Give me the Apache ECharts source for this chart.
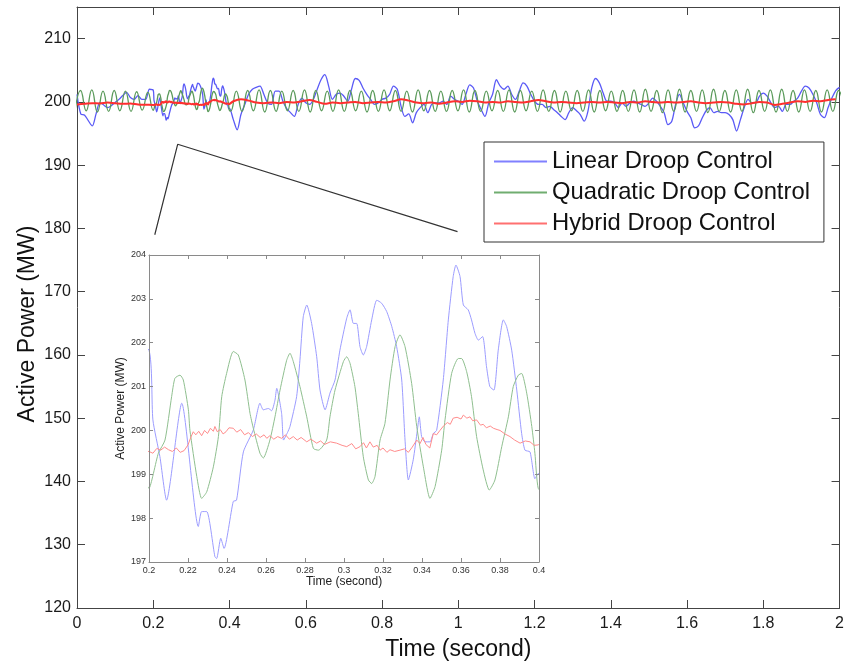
<!DOCTYPE html>
<html>
<head>
<meta charset="utf-8">
<title>Active Power under Droop Control</title>
<script src="https://cdn.jsdelivr.net/npm/echarts@6/dist/echarts.min.js"></script>
<style>
  html, body { margin: 0; padding: 0; background: #fff; }
  #chart { width: 847px; height: 666px; }
</style>
</head>
<body>
<div id="chart"></div>
<script>
// ---- Series names ----
const seriesNames = ['Linear Droop Control', 'Quadratic Droop Control', 'Hybrid Droop Control'];

// ---- Linear droop: sampled every 0.01 s before and after the 0.2-0.4 s window ----
const linearHeadStart = 0, linearStep = 0.01;
const linearHead = [201.2, 198.1, 197.9, 197.0, 196.2, 198.1, 199.9, 199.5, 199.1, 199.4,
  199.9, 200.4, 201.0, 201.5, 200.7, 200.4, 201.0, 200.4, 200.4, 202.0];
const linearTailStart = 0.41;
const linearTail = [
  197.2, 195.6, 198.0, 199.6, 201.2, 202.0, 202.3, 202.5, 201.2, 199.85,
  199.6, 201.7, 201.7, 200.1, 198.95, 198.3, 197.7, 199.6, 200.6, 199.85,
  199.6, 200.4, 202.0, 203.5, 204.3, 202.5, 200.4, 201.2, 201.4, 200.9,
  200.1, 202.0, 203.7, 203.4, 202.2, 201.2, 200.4, 199.6, 199.85, 200.4,
  200.6, 201.2, 202.5, 202.0, 199.3, 197.7, 198.1, 196.7, 198.3, 199.1,
  199.6, 198.3, 199.6, 199.85, 199.85, 200.1, 199.6, 200.9, 200.4, 200.1,
  199.6, 201.2, 202.7, 202.2, 200.1, 198.8, 197.7, 199.85, 201.2, 203.5,
  202.5, 202.0, 202.5, 201.2, 200.4, 201.7, 203.0, 202.5, 201.2, 200.1,
  199.6, 199.6, 199.1, 199.3, 198.8, 198.3, 197.7, 197.2, 198.3, 199.1,
  198.6, 198.0, 196.95, 198.5, 202.2, 203.7, 203.0, 201.4, 200.1, 200.1,
  199.85, 199.1, 199.85, 199.3, 199.85, 200.1, 199.85, 199.6, 199.3, 199.85,
  200.6, 200.1, 199.3, 198.3, 196.4, 196.95, 199.6, 201.2, 199.85, 198.5,
  197.5, 195.9, 196.2, 197.5, 198.6, 199.1, 198.3, 198.5, 198.3, 198.3,
  198.0, 197.2, 195.4, 197.2, 199.1, 200.4, 199.85, 199.85, 200.9, 201.4,
  200.9, 199.85, 199.1, 199.3, 198.5, 199.6, 199.6, 200.1, 200.6, 201.7,
  202.5, 202.2, 201.2, 199.85, 198.0, 197.5, 199.1, 200.6, 201.8, 202.3];
// Detailed samples inside 0.2-0.4 s: [time, MW]
const linearDetail = [
  [0.2000, 201.83], [0.2020, 200.24], [0.2056, 199.40], [0.2090, 198.41], [0.2168, 200.62],
  [0.2253, 197.81], [0.2270, 198.15], [0.2296, 198.15], [0.2338, 197.12], [0.2347, 197.08],
  [0.2368, 197.54], [0.2385, 197.31], [0.2432, 198.38], [0.2449, 198.41], [0.2484, 199.51],
  [0.2535, 200.01], [0.2569, 200.62], [0.2586, 200.47], [0.2612, 200.50], [0.2629, 200.45],
  [0.2646, 200.69], [0.2655, 200.96], [0.2680, 200.39], [0.2690, 199.78], [0.2710, 199.95],
  [0.2723, 200.09], [0.2757, 200.77], [0.2774, 201.60], [0.2791, 202.59], [0.2809, 202.86],
  [0.2834, 202.44], [0.2860, 201.68], [0.2877, 200.92], [0.2903, 200.47], [0.2928, 200.85],
  [0.2954, 201.15], [0.2979, 201.83], [0.3014, 202.56], [0.3031, 202.75], [0.3048, 202.44],
  [0.3065, 202.44], [0.3082, 201.91], [0.3099, 201.72], [0.3116, 201.91], [0.3142, 202.52],
  [0.3168, 202.97], [0.3193, 202.90], [0.3219, 202.71], [0.3245, 202.37], [0.3270, 201.91],
  [0.3296, 201.15], [0.3313, 199.78], [0.3330, 198.87], [0.3355, 199.33], [0.3376, 200.00],
  [0.3386, 200.31], [0.3398, 199.86], [0.3415, 199.74], [0.3441, 199.74], [0.3458, 199.93],
  [0.3475, 200.00], [0.3509, 201.15], [0.3535, 202.52], [0.3560, 203.51], [0.3574, 203.77],
  [0.3595, 203.51], [0.3612, 202.86], [0.3637, 202.75], [0.3654, 202.52], [0.3672, 202.21],
  [0.3689, 202.06], [0.3711, 202.14], [0.3731, 201.45], [0.3748, 201.00], [0.3769, 200.92],
  [0.3791, 201.83], [0.3817, 202.52], [0.3834, 202.37], [0.3860, 201.83], [0.3886, 200.92],
  [0.3911, 199.93], [0.3928, 199.55], [0.3954, 199.51], [0.3979, 198.90], [0.3996, 199.02]];

// ---- Quadratic droop: successive troughs and crests of the oscillation ----
const quadHeadStart = -0.0053, quadHeadStep = 0.0147;
const quadHead = [198.5, 201.8, 198.6, 201.9, 198.4, 201.7, 198.5, 201.8, 198.6, 201.7,
  198.5, 201.6, 198.7, 201.5];
const quadTailStart = 0.403, quadTailStep = 0.0149;
const quadTail = [
  198.55, 201.7, 198.5, 201.8, 198.6, 201.9, 198.4, 201.8, 198.5, 201.7,
  198.6, 201.8, 198.5, 201.9, 198.4, 201.8, 198.6, 201.7, 198.5, 201.9,
  198.5, 201.8, 198.6, 201.7, 198.4, 201.8, 198.5, 201.9, 198.6, 201.8,
  198.5, 201.7, 198.4, 201.9, 198.6, 201.8, 198.5, 201.7, 198.5, 201.8,
  198.6, 201.9, 198.4, 201.8, 198.5, 201.7, 198.6, 201.8, 198.5, 201.9,
  198.4, 201.8, 198.6, 201.7, 198.5, 201.9, 198.5, 201.8, 198.4, 201.7,
  198.6, 201.8, 198.5, 201.9, 198.4, 201.8, 198.6, 201.7, 198.5, 201.8,
  198.5, 201.9, 198.4, 202.0, 198.5, 201.8, 198.3, 201.9, 198.5, 202.0,
  198.4, 201.8, 198.5, 201.9, 198.3, 202.0, 198.5, 201.8, 198.4, 201.9,
  198.5, 202.0, 198.3, 201.8, 198.5, 201.9, 198.4, 202.0, 198.5, 201.8,
  198.4, 201.9, 198.5, 201.8, 198.4, 201.9, 198.5, 201.8, 198.6];
const quadDetail = [
  [0.2000, 198.68], [0.2048, 199.48], [0.2082, 199.78], [0.2116, 200.77], [0.2133, 201.19],
  [0.2159, 201.26], [0.2176, 201.15], [0.2202, 200.47], [0.2210, 200.00], [0.2245, 198.95],
  [0.2270, 198.45], [0.2296, 198.60], [0.2330, 199.17], [0.2356, 199.86], [0.2373, 200.77],
  [0.2398, 201.30], [0.2432, 201.80], [0.2458, 201.72], [0.2492, 201.15], [0.2518, 200.39],
  [0.2535, 200.05], [0.2569, 199.48], [0.2586, 199.37], [0.2620, 199.78], [0.2646, 200.31],
  [0.2672, 200.92], [0.2706, 201.60], [0.2723, 201.76], [0.2740, 201.57], [0.2774, 201.00],
  [0.2809, 200.31], [0.2843, 199.59], [0.2869, 199.55], [0.2911, 199.78], [0.2928, 200.31],
  [0.2954, 200.92], [0.2997, 201.57], [0.3014, 201.68], [0.3031, 201.53], [0.3056, 201.00],
  [0.3073, 200.39], [0.3099, 199.40], [0.3125, 198.87], [0.3142, 198.79], [0.3159, 198.95],
  [0.3185, 199.78], [0.3210, 200.16], [0.3236, 201.15], [0.3262, 201.91], [0.3287, 202.18],
  [0.3313, 201.91], [0.3347, 201.07], [0.3373, 200.09], [0.3407, 199.17], [0.3441, 198.45],
  [0.3467, 198.72], [0.3501, 199.55], [0.3518, 200.24], [0.3552, 201.30], [0.3586, 201.64],
  [0.3603, 201.64], [0.3629, 201.34], [0.3654, 200.77], [0.3680, 199.86], [0.3714, 199.10],
  [0.3745, 198.64], [0.3774, 198.87], [0.3809, 199.63], [0.3843, 200.31], [0.3868, 201.00],
  [0.3894, 201.26], [0.3911, 201.30], [0.3937, 200.85], [0.3963, 200.09], [0.3979, 199.48],
  [0.3996, 198.68]];

// ---- Hybrid droop: sampled every 0.02 s outside the window ----
const hybridHeadStart = 0, hybridStep = 0.02;
const hybridHead = [199.6, 199.7, 199.8, 199.75, 199.9, 199.8, 199.7, 199.75, 199.6, 199.55];
const hybridTailStart = 0.41;
const hybridTail = [
  200.1, 200.4, 200.2, 199.9, 199.8, 199.9, 199.8, 200.0, 199.9, 200.1,
  200.3, 200.0, 199.7, 199.9, 199.8, 199.9, 200.0, 199.8, 199.9, 200.0,
  199.9, 200.1, 200.4, 200.2, 199.9, 199.8, 199.9, 199.7, 199.9, 200.1,
  200.0, 200.2, 200.1, 199.9, 200.0, 199.9, 200.1, 200.0, 199.9, 200.1,
  200.3, 200.1, 199.9, 200.0, 199.9, 199.8, 199.9, 200.0, 199.9, 200.0,
  199.9, 199.8, 200.0, 199.9, 200.1, 200.0, 199.9, 200.0, 199.9, 200.0,
  200.1, 199.9, 199.8, 199.9, 200.0, 199.9, 199.7, 199.6, 199.8, 200.0,
  199.9, 199.5, 199.7, 199.9, 200.1, 200.0, 200.2, 200.1, 200.3, 200.4];
const hybridDetail = [
  [0.2000, 199.52], [0.2020, 199.48], [0.2040, 199.59], [0.2060, 199.55], [0.2080, 199.62],
  [0.2100, 199.56], [0.2120, 199.52], [0.2140, 199.60], [0.2160, 199.50], [0.2180, 199.54],
  [0.2200, 199.67], [0.2215, 199.85], [0.2227, 199.97], [0.2240, 199.90], [0.2255, 199.98],
  [0.2270, 199.88], [0.2285, 200.00], [0.2300, 199.93], [0.2315, 200.05], [0.2330, 199.98],
  [0.2338, 200.09], [0.2350, 199.97], [0.2365, 200.02], [0.2380, 199.92], [0.2395, 199.97],
  [0.2410, 200.06], [0.2432, 200.05], [0.2450, 199.96], [0.2470, 200.02], [0.2490, 199.90],
  [0.2510, 199.95], [0.2530, 199.86], [0.2550, 199.92], [0.2570, 199.84], [0.2590, 199.90],
  [0.2604, 199.82], [0.2620, 199.88], [0.2640, 199.80], [0.2660, 199.86], [0.2680, 199.82],
  [0.2700, 199.90], [0.2720, 199.80], [0.2740, 199.86], [0.2760, 199.78], [0.2780, 199.84],
  [0.2809, 199.74], [0.2830, 199.80], [0.2860, 199.71], [0.2880, 199.76], [0.2900, 199.68],
  [0.2930, 199.74], [0.2962, 199.71], [0.2990, 199.66], [0.3014, 199.63], [0.3040, 199.70],
  [0.3060, 199.58], [0.3082, 199.63], [0.3100, 199.72], [0.3115, 199.60], [0.3133, 199.74],
  [0.3150, 199.62], [0.3170, 199.66], [0.3185, 199.55], [0.3200, 199.60], [0.3220, 199.50],
  [0.3236, 199.56], [0.3260, 199.52], [0.3287, 199.55], [0.3310, 199.58], [0.3330, 199.50],
  [0.3350, 199.62], [0.3373, 199.78], [0.3390, 199.70], [0.3405, 199.84], [0.3420, 199.68],
  [0.3440, 199.60], [0.3458, 199.93], [0.3475, 199.90], [0.3492, 200.00], [0.3510, 200.10],
  [0.3530, 200.18], [0.3545, 200.14], [0.3560, 200.28], [0.3580, 200.30], [0.3600, 200.26],
  [0.3612, 200.35], [0.3630, 200.28], [0.3646, 200.31], [0.3660, 200.22], [0.3680, 200.24],
  [0.3700, 200.12], [0.3714, 200.14], [0.3730, 200.06], [0.3750, 200.10], [0.3766, 200.05],
  [0.3785, 200.02], [0.3800, 200.00], [0.3825, 199.92], [0.3851, 199.86], [0.3875, 199.78],
  [0.3903, 199.71], [0.3930, 199.76], [0.3954, 199.74], [0.3975, 199.66], [0.3996, 199.67]];

// ---- Callout from the overview to the detail window: [time, MW] ----
const calloutGuide = [[0.204, 179.0], [0.264, 193.3], [0.998, 179.5]];

// ---- Axis ranges ----
const mainTime = { min: 0, max: 2, interval: 0.2 };
const mainPower = { min: 120, max: 215, interval: 10 };
const detailTime = { min: 0.2, max: 0.4, interval: 0.02 };
const detailPower = { min: 197, max: 204, interval: 1 };

// Turn uniformly sampled values into [time, value] pairs
function withTimes(values, t0, dt) {
  return values.map((v, i) => [+(t0 + i * dt).toFixed(4), v]);
}

const linearData = withTimes(linearHead, linearHeadStart, linearStep)
  .concat(linearDetail, withTimes(linearTail, linearTailStart, linearStep));
const quadData = withTimes(quadHead, quadHeadStart, quadHeadStep)
  .concat(quadDetail, withTimes(quadTail, quadTailStart, quadTailStep));
const hybridData = withTimes(hybridHead, hybridHeadStart, hybridStep)
  .concat(hybridDetail, withTimes(hybridTail, hybridTailStart, hybridStep));

const FONT = '"Liberation Sans", Arial, sans-serif';
const mainColors = ['#5a5af6', '#5a9a5a', '#ff2f2f'];
const detailColors = ['#9c9cff', '#8fbf8f', '#ff8c8c'];
const legendColors = ['#8080ff', '#70ad70', '#ff7070'];

const mainGrid = { left: 77, top: 7, right: 7, bottom: 56 };
const detailGrid = { left: 149, top: 255, width: 390, height: 307 };

function boxAxis(gridIndex, range, position, extra) {
  return Object.assign({
    type: 'value', gridIndex, position,
    min: range.min, max: range.max, interval: range.interval,
    splitLine: { show: false },
    axisLine: { show: true, onZero: false, lineStyle: { color: '#444', width: 1 } },
    axisTick: { show: true, inside: true, length: 8, lineStyle: { color: '#444' } },
    axisLabel: { show: false }
  }, extra || {});
}

const detailAxisStyle = {
  z: 11,
  axisLine: { show: true, onZero: false, lineStyle: { color: '#8a8a8a', width: 1 } },
  axisTick: { show: true, inside: true, length: 4, lineStyle: { color: '#8a8a8a' } }
};

const option = {
  animation: false,
  backgroundColor: '#fff',
  textStyle: { fontFamily: FONT },
  grid: [
    Object.assign({ containLabel: false }, mainGrid),
    Object.assign({ containLabel: false }, detailGrid)
  ],
  xAxis: [
    boxAxis(0, mainTime, 'bottom', {
      axisLabel: { show: true, fontSize: 16, color: '#1a1a1a', margin: 8, fontFamily: FONT },
      name: 'Time (second)', nameLocation: 'middle', nameGap: 30,
      nameTextStyle: { fontSize: 23, color: '#111', fontFamily: FONT }
    }),
    boxAxis(0, mainTime, 'top'),
    boxAxis(1, detailTime, 'bottom', Object.assign({}, detailAxisStyle, {
      axisLabel: { show: true, fontSize: 9, color: '#333', margin: 4, fontFamily: FONT,
        formatter: v => String(+v.toFixed(2)) },
      name: 'Time (second)', nameLocation: 'middle', nameGap: 13,
      nameTextStyle: { fontSize: 12, color: '#222', fontFamily: FONT }
    })),
    boxAxis(1, detailTime, 'top', detailAxisStyle)
  ],
  yAxis: [
    boxAxis(0, mainPower, 'left', {
      axisLabel: { show: true, fontSize: 16, color: '#1a1a1a', margin: 6, fontFamily: FONT,
        showMaxLabel: false }
    }),
    boxAxis(0, mainPower, 'right'),
    boxAxis(1, detailPower, 'left', Object.assign({}, detailAxisStyle, {
      axisLabel: { show: true, fontSize: 9, color: '#333', margin: 3, fontFamily: FONT },
      name: 'Active Power (MW)', nameLocation: 'middle', nameGap: 22,
      nameTextStyle: { fontSize: 12, color: '#222', fontFamily: FONT }
    })),
    boxAxis(1, detailPower, 'right', detailAxisStyle)
  ],
  legend: {
    orient: 'vertical', left: 484, top: 142, z: 12,
    padding: [7, 14, 6, 10],
    itemWidth: 53, itemHeight: 2, itemGap: 6,
    backgroundColor: '#fff', borderColor: '#333', borderWidth: 1, borderRadius: 0,
    textStyle: { fontSize: 23.8, color: '#111', fontFamily: FONT, lineHeight: 25 },
    data: seriesNames.map((n, i) => ({
      name: n, icon: 'rect',
      itemStyle: { color: legendColors[i], borderWidth: 0 }
    }))
  },
  graphic: [
    {
      type: 'rect', z: 8, silent: true,
      shape: { x: detailGrid.left, y: detailGrid.top, width: detailGrid.width, height: detailGrid.height },
      style: { fill: '#fff' }
    },
    {
      type: 'text', z: 8, silent: true,
      x: 28, y: 324, rotation: Math.PI / 2,
      style: { text: 'Active Power (MW)', font: '23px ' + FONT, fill: '#111',
        textAlign: 'center', textVerticalAlign: 'middle' }
    }
  ],
  series: [
    { name: seriesNames[0], type: 'line', xAxisIndex: 0, yAxisIndex: 0, data: linearData,
      showSymbol: false, symbol: 'none', smooth: 0.3, z: 2,
      lineStyle: { color: mainColors[0], width: 1.3 }, itemStyle: { color: mainColors[0] } },
    { name: seriesNames[1], type: 'line', xAxisIndex: 0, yAxisIndex: 0, data: quadData,
      showSymbol: false, symbol: 'none', smooth: 0.5, z: 3,
      lineStyle: { color: mainColors[1], width: 1.3 }, itemStyle: { color: mainColors[1] } },
    { name: seriesNames[2], type: 'line', xAxisIndex: 0, yAxisIndex: 0, data: hybridData,
      showSymbol: false, symbol: 'none', smooth: 0.3, z: 4,
      lineStyle: { color: mainColors[2], width: 2 }, itemStyle: { color: mainColors[2] } },
    { name: 'guide', type: 'line', xAxisIndex: 0, yAxisIndex: 0, data: calloutGuide,
      showSymbol: false, symbol: 'none', silent: true, z: 5,
      lineStyle: { color: '#333', width: 1.2 } },
    { name: seriesNames[0], type: 'line', xAxisIndex: 2, yAxisIndex: 2, data: linearData,
      showSymbol: false, symbol: 'none', smooth: 0.2, z: 10,
      lineStyle: { color: detailColors[0], width: 1 }, itemStyle: { color: detailColors[0] } },
    { name: seriesNames[1], type: 'line', xAxisIndex: 2, yAxisIndex: 2, data: quadData,
      showSymbol: false, symbol: 'none', smooth: 0.2, z: 10,
      lineStyle: { color: detailColors[1], width: 1 }, itemStyle: { color: detailColors[1] } },
    { name: seriesNames[2], type: 'line', xAxisIndex: 2, yAxisIndex: 2, data: hybridData,
      showSymbol: false, symbol: 'none', smooth: false, z: 10,
      lineStyle: { color: detailColors[2], width: 1 }, itemStyle: { color: detailColors[2] } }
  ]
};

const chart = echarts.init(document.getElementById('chart'), null, { renderer: 'canvas' });
chart.setOption(option);
</script>
</body>
</html>
